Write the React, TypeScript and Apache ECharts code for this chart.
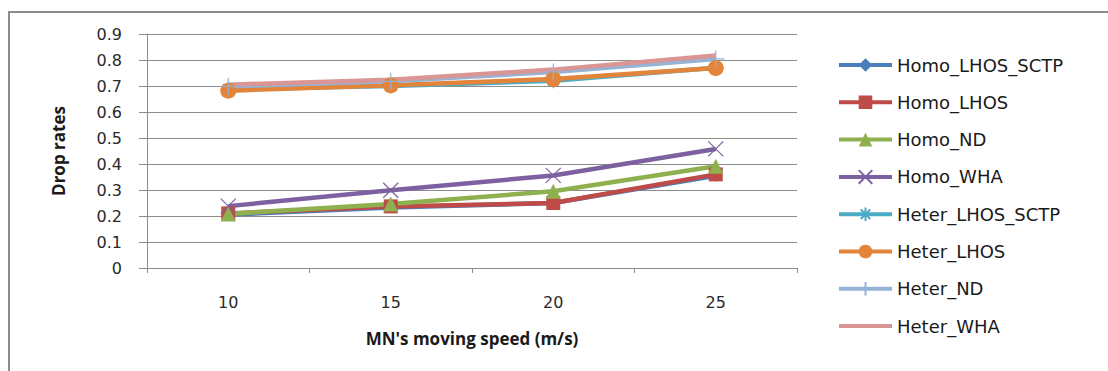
import React, { useEffect, useRef } from "react";
import * as echarts from "echarts";

// Moving speed of the mobile node (m/s)
const speeds = ["10", "15", "20", "25"];

// Drop rates per scheme
const homoLhosSctp = [0.205, 0.233, 0.25, 0.355];
const homoLhos = [0.21, 0.237, 0.25, 0.36];
const homoNd = [0.208, 0.246, 0.295, 0.391];
const homoWha = [0.238, 0.299, 0.356, 0.458];
const heterLhosSctp = [0.688, 0.7, 0.72, 0.77];
const heterLhos = [0.682, 0.703, 0.727, 0.769];
const heterNd = [0.699, 0.718, 0.754, 0.804];
const heterWha = [0.705, 0.724, 0.763, 0.817];

const yTicks = [0, 0.1, 0.2, 0.3, 0.4, 0.5, 0.6, 0.7, 0.8, 0.9];

const SYM_X = "path://M0,0L10,10M10,0L0,10";
const SYM_STAR = "path://M5,0L5,10M0,5L10,5M1.5,1.5L8.5,8.5M8.5,1.5L1.5,8.5";
const SYM_PLUS = "path://M5,0L5,10M0,5L10,5";

type Def = {
  name: string;
  data: number[];
  color: string;
  symbol: string;
  size: number;
  stroke?: boolean;
};

const defs: Def[] = [
  { name: "Homo_LHOS_SCTP", data: homoLhosSctp, color: "#4A7EBB", symbol: "diamond", size: 12 },
  { name: "Homo_LHOS", data: homoLhos, color: "#BE4B48", symbol: "rect", size: 14 },
  { name: "Homo_ND", data: homoNd, color: "#8FB04E", symbol: "triangle", size: 15 },
  { name: "Homo_WHA", data: homoWha, color: "#7D60A0", symbol: SYM_X, size: 15, stroke: true },
  { name: "Heter_LHOS_SCTP", data: heterLhosSctp, color: "#4BACC6", symbol: SYM_STAR, size: 15, stroke: true },
  { name: "Heter_LHOS", data: heterLhos, color: "#E2843A", symbol: "circle", size: 16 },
  { name: "Heter_ND", data: heterNd, color: "#95B3D7", symbol: SYM_PLUS, size: 17, stroke: true },
  { name: "Heter_WHA", data: heterWha, color: "#D99694", symbol: "none", size: 0 },
];

export default function App() {
  const ref = useRef<HTMLDivElement>(null);

  useEffect(() => {
    document.body.style.margin = "0";
    if (!ref.current) return;
    const chart = echarts.init(ref.current, undefined, { renderer: "svg" });

    const series = defs.map((d) => ({
      name: d.name,
      type: "line",
      data: d.data,
      symbol: d.symbol,
      symbolSize: d.size,
      showSymbol: d.symbol !== "none",
      lineStyle: { color: d.color, width: 4.5 },
      itemStyle: d.stroke
        ? { color: "rgba(0,0,0,0)", borderColor: d.color, borderWidth: 1.2 }
        : { color: d.color, borderColor: d.color, borderWidth: 0 },
      emphasis: { disabled: true },
    }));

    // The series without markers shows only its line in the legend
    const legendData = defs.map((d) =>
      d.symbol === "none"
        ? { name: d.name, itemStyle: { color: "rgba(0,0,0,0)", borderWidth: 0, opacity: 0 } }
        : { name: d.name }
    );

    chart.setOption({
      animation: false,
      backgroundColor: "#ffffff",
      textStyle: { fontFamily: "DejaVu Sans" },
      graphic: [
        {
          type: "rect",
          shape: { x: 9, y: 12, width: 1200, height: 400 },
          style: { fill: "none", stroke: "#8c8c8c", lineWidth: 2 },
          silent: true,
        },
      ],
      grid: { left: 147, top: 34, right: 311, bottom: 103, containLabel: false },
      legend: {
        orient: "vertical",
        left: 837,
        top: 56,
        padding: 0,
        itemWidth: 53,
        itemHeight: 17,
        itemGap: 19.3,
        data: legendData,
        lineStyle: { width: 4 },
        textStyle: { fontFamily: "DejaVu Sans", fontSize: 18, lineHeight: 18, color: "#1a1a1a" },
        selectedMode: false,
      },
      xAxis: {
        type: "category",
        data: speeds,
        boundaryGap: true,
        name: "MN's moving speed (m/s)",
        nameLocation: "middle",
        nameGap: 62,
        nameTextStyle: { fontFamily: "Open Sans", fontWeight: "bold", fontSize: 17, color: "#1a1a1a" },
        axisLine: { show: true, lineStyle: { color: "#8c8c8c", width: 1 } },
        axisTick: { show: true, length: 5, alignWithLabel: false, lineStyle: { color: "#8c8c8c" } },
        axisLabel: { fontSize: 16, color: "#2a2a2a", margin: 26 },
        splitLine: { show: false },
      },
      yAxis: {
        type: "value",
        min: yTicks[0],
        max: yTicks[yTicks.length - 1],
        interval: 0.1,
        name: "Drop rates",
        nameLocation: "middle",
        nameGap: 80,
        nameTextStyle: { fontFamily: "Open Sans", fontWeight: "bold", fontSize: 17, color: "#1a1a1a" },
        axisLine: { show: true, lineStyle: { color: "#8c8c8c", width: 1 } },
        axisTick: { show: true, length: 8, lineStyle: { color: "#8c8c8c" } },
        axisLabel: {
          fontSize: 16,
          color: "#2a2a2a",
          margin: 25,
          formatter: (v: number) => String(Math.round(v * 10) / 10),
        },
        splitLine: { show: true, lineStyle: { color: "#8c8c8c", width: 1 } },
      },
      series,
    });

    return () => chart.dispose();
  }, []);

  return <div ref={ref} style={{ width: 1108, height: 371 }} />;
}
